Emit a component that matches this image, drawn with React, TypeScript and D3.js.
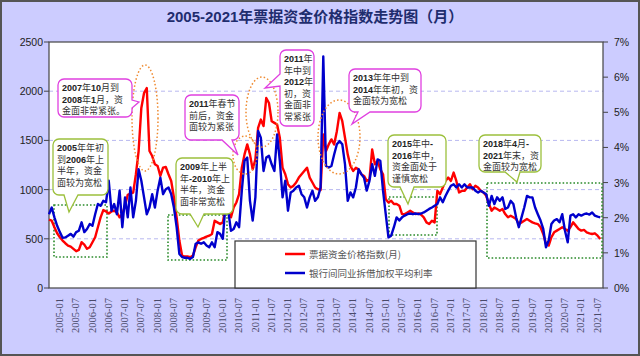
import React from 'react';
import * as d3 from 'd3';

const W = 640;
const H = 356;

const titleText = '2005-2021年票据资金价格指数走势图（月）';
const seriesNames = ['票据资金价格指数(月)', '银行间同业拆借加权平均利率'];

const tickLabels = [
  '2005-01', '2005-07', '2006-01', '2006-07', '2007-01', '2007-07', '2008-01', '2008-07',
  '2009-01', '2009-07', '2010-01', '2010-07', '2011-01', '2011-07', '2012-01', '2012-07',
  '2013-01', '2013-07', '2014-01', '2014-07', '2015-01', '2015-07', '2016-01', '2016-07',
  '2017-01', '2017-07', '2018-01', '2018-07', '2019-01', '2019-07', '2020-01', '2020-07',
  '2021-01', '2021-07',
];
const leftTicks = [0, 500, 1000, 1500, 2000, 2500];
const rightTicks = [0, 1, 2, 3, 4, 5, 6, 7];

// 票据资金价格指数 monthly, 2005-01 .. 2021-12
const billIndex = [
  694, 684, 617, 556, 516, 482, 455, 431, 421, 398,
  374, 388, 465, 441, 398, 414, 465, 516, 617, 718,
  792, 778, 758, 778, 785, 768, 718, 751, 836, 947,
  960, 970, 1156, 1392, 1830, 1982, 2032, 1392, 1341, 1257,
  1240, 1139, 1223, 1230, 1156, 1088, 920, 718, 482, 330,
  320, 320, 313, 330, 414, 482, 499, 509, 522, 532,
  549, 684, 667, 650, 667, 819, 785, 718, 819, 869,
  954, 1223, 1358, 1459, 1358, 1206, 1308, 1628, 1712, 1645,
  1931, 1880, 1695, 1678, 1661, 1527, 1223, 1156, 1055, 1021,
  1038, 1072, 1122, 1156, 1190, 1223, 1122, 1072, 1021, 1004,
  994, 1560, 1392, 1459, 1510, 1459, 1594, 1779, 1695, 1527,
  1358, 1240, 1190, 1223, 1206, 1156, 1139, 1088, 1105, 1409,
  1257, 1291, 1206, 1156, 903, 869, 886, 853, 853, 836,
  751, 751, 768, 785, 768, 751, 758, 745, 718, 667,
  650, 684, 667, 987, 954, 1021, 1088, 1122, 1088, 1173,
  1088, 971, 987, 987, 1021, 1055, 1004, 1038, 1021, 987,
  971, 937, 853, 785, 819, 802, 785, 802, 751, 718,
  735, 718, 701, 650, 667, 684, 701, 684, 667, 657,
  650, 617, 549, 448, 431, 516, 566, 583, 600, 617,
  600, 583, 617, 667, 634, 600, 583, 590, 566, 556,
  549, 556, 532, 499,
];

// 银行间同业拆借加权平均利率 (%) monthly, 2005-01 .. 2021-12
const interbankRate = [
  2.10, 2.29, 2.01, 1.77, 1.59, 1.43, 1.44, 1.49, 1.54, 1.46,
  1.59, 1.63, 1.87, 1.59, 1.68, 1.82, 1.77, 2.10, 2.39, 2.34,
  2.48, 2.44, 3.05, 2.20, 2.39, 2.10, 2.77, 1.73, 2.58, 2.01,
  2.86, 2.01, 2.48, 3.38, 3.05, 2.58, 2.10, 2.29, 2.67, 2.29,
  2.77, 3.14, 2.67, 2.81, 2.86, 2.67, 2.29, 1.73, 0.97, 0.88,
  0.86, 0.86, 0.83, 0.88, 1.26, 1.30, 1.26, 1.30, 1.21, 1.16,
  1.30, 1.16, 1.59, 1.54, 1.40, 2.39, 2.20, 1.63, 1.68, 1.87,
  1.73, 2.77, 3.62, 3.71, 2.48, 1.92, 2.58, 4.47, 4.28, 3.33,
  3.71, 3.76, 3.52, 3.33, 4.37, 3.62, 2.58, 3.05, 2.20, 2.72,
  2.77, 2.86, 2.91, 2.67, 2.58, 2.29, 2.58, 2.77, 2.48, 2.58,
  2.86, 6.59, 3.47, 3.43, 3.47, 3.80, 4.09, 4.18, 4.09, 3.52,
  2.48, 2.72, 2.58, 2.86, 3.38, 3.24, 3.14, 2.77, 3.05, 3.52,
  3.19, 3.66, 3.62, 2.77, 2.10, 1.44, 1.49, 1.73, 2.01, 1.92,
  2.01, 2.06, 2.10, 2.12, 2.10, 2.12, 2.10, 2.12, 2.15, 2.20,
  2.25, 2.29, 2.34, 2.39, 2.58, 2.44, 2.62, 2.77, 2.91, 2.95,
  2.86, 2.95, 2.86, 2.95, 2.86, 2.86, 2.86, 2.77, 2.72, 2.77,
  2.72, 2.67, 2.34, 2.62, 2.39, 2.58, 2.48, 2.58, 2.25, 2.29,
  2.48, 2.39, 2.01, 1.73, 2.01, 2.29, 2.62, 2.58, 2.58, 2.29,
  2.10, 1.92, 1.68, 1.16, 1.35, 1.82, 1.92, 1.96, 1.87, 2.10,
  1.63, 1.30, 2.06, 2.10, 2.01, 2.10, 2.06, 2.10, 2.12, 2.09,
  2.15, 2.06, 2.03, 2.01,
];

const calloutTexts = [
  ['2007年10月到', '2008年1月，资', '金面非常紧张。'],
  ['2005年年初', '到2006年上', '半年，资金', '面较为宽松'],
  ['2011年春节', '前后，资金', '面较为紧张'],
  ['2009年上半', '年-2010年上', '半年，资金', '面非常宽松'],
  ['2011年', '年中到', '2012年', '初，资', '金面非', '常紧张'],
  ['2013年年中到', '2014年年初，资', '金面较为宽松'],
  ['2015年中-', '2016年中，', '资金面处于', '谨慎宽松'],
  ['2018年4月-', '2021年末，资', '金面较为宽松'],
];

const PL = 49, PR = 603, PT = 42, PB = 288;

function calloutPath(
  x: number, y: number, w: number, h: number, r: number,
  side: string, b1: number, b2: number, tx: number, ty: number,
) {
  let p = `M${x + r},${y}H${x + w - r}A${r},${r} 0 0 1 ${x + w},${y + r}`;
  if (side === 'right') p += `V${b1}L${tx},${ty}L${x + w},${b2}`;
  p += `V${y + h - r}A${r},${r} 0 0 1 ${x + w - r},${y + h}`;
  if (side === 'bottom') p += `H${b2}L${tx},${ty}L${b1},${y + h}`;
  p += `H${x + r}A${r},${r} 0 0 1 ${x},${y + h - r}`;
  if (side === 'left') p += `V${b2}L${tx},${ty}L${x},${b1}`;
  p += `V${y + r}A${r},${r} 0 0 1 ${x + r},${y}Z`;
  return p;
}

function runs(line: string) {
  return line.match(/[\x00-\x7F]+|[^\x00-\x7F]+/g) || [];
}

function Callout(props: {
  lines: string[]; x: number; y: number; w: number; h: number; color: string;
  side: string; b1: number; b2: number; tx: number; ty: number; lh?: number;
}) {
  const { lines, x, y, w, h, color, side, b1, b2, tx, ty } = props;
  const lh = props.lh ?? 11.5;
  return (
    <g>
      <path d={calloutPath(x, y, w, h, 6, side, b1, b2, tx, ty)} fill="#ffffff" stroke={color} strokeWidth={1.3} />
      {lines.map((ln, k) => (
        <text key={k} x={x + 4} y={y + 12 + k * lh} fontSize={9}>
          {runs(ln).map((r, j) =>
            /^[\x00-\x7F]+$/.test(r) ? (
              <tspan key={j} fontFamily="Liberation Sans, Arial, sans-serif" fontWeight="bold" fill="#222">{r}</tspan>
            ) : (
              <tspan key={j} fontFamily="Noto Sans CJK SC, sans-serif" fill="#333">{r}</tspan>
            ),
          )}
        </text>
      ))}
    </g>
  );
}

export default function App() {
  const idx = d3.range(billIndex.length);
  const x = d3.scaleLinear().domain([0, 204]).range([PL, PR]);
  const yL = d3.scaleLinear().domain([0, 2500]).range([PB, PT]);
  const yR = d3.scaleLinear().domain([0, 7]).range([PB, PT]);

  const redLine = d3.line<number>().x((i) => x(i)).y((i) => yL(billIndex[i]));
  const blueLine = d3.line<number>().x((i) => x(i)).y((i) => yR(interbankRate[i]));

  const dotted = { fill: 'none', stroke: '#2a8a2a', strokeWidth: 1.6, strokeDasharray: '1.6,2' };
  const ell = { fill: 'none', stroke: '#ef8a30', strokeWidth: 1.5, strokeDasharray: '1.5,2.2' };
  const mag = '#e040e0';
  const grn = '#9cc03c';

  return (
    <svg width={W} height={H} style={{ position: 'absolute', left: 0, top: 0 }}>
      <rect x={0} y={0} width={W} height={H} fill="#ccccff" />
      <rect x={1} y={1} width={W - 2} height={H - 2} fill="none" stroke="#555" strokeWidth={2} />
      <text x={315} y={22} textAnchor="middle" fontSize={15} fontWeight="bold"
        fontFamily="Liberation Sans, Noto Sans CJK SC, sans-serif" fill="#1f2d6e">{titleText}</text>

      <rect x={PL} y={PT} width={PR - PL} height={PB - PT} fill="#ffffff" />
      {leftTicks.slice(1, -1).map((t) => (
        <line key={t} x1={PL} x2={PR} y1={yL(t)} y2={yL(t)} stroke="#b8b8f0" strokeWidth={1} strokeDasharray="4,3" />
      ))}
      <rect x={PL} y={PT} width={PR - PL} height={PB - PT} fill="none" stroke="#444" strokeWidth={1.2} />

      {leftTicks.map((t) => (
        <g key={t}>
          <line x1={PL - 5} x2={PL} y1={yL(t)} y2={yL(t)} stroke="#444" />
          <text x={43} y={yL(t) + 4} textAnchor="end" fontSize={10.5}
            fontFamily="Liberation Sans, Arial, sans-serif" fill="#222">{t}</text>
        </g>
      ))}
      {rightTicks.map((t) => (
        <g key={t}>
          <line x1={PR} x2={PR + 5} y1={yR(t)} y2={yR(t)} stroke="#444" />
          <text x={614} y={yR(t) + 4} fontSize={10.5}
            fontFamily="Liberation Sans, Arial, sans-serif" fill="#222">{t}%</text>
        </g>
      ))}
      {tickLabels.map((lb, k) => (
        <text key={lb} transform={`translate(${x(k * 6) + 14},298) rotate(-90)`} textAnchor="end"
          fontSize={10.5} fontFamily="Liberation Serif, serif" fill="#4a4a6a">{lb}</text>
      ))}

      {/* dotted highlight boxes */}
      <rect x={54} y={205} width={53} height={52} {...dotted} />
      <rect x={168} y={215} width={59} height={45} {...dotted} />
      <rect x={389} y={197} width={48} height={38} {...dotted} />
      <rect x={487} y={183} width={115} height={75} {...dotted} />

      {/* legend */}
      <rect x={235} y={241} width={241} height={47} fill="#ffffff" stroke="#333" strokeWidth={1.2} />
      <line x1={285} x2={305} y1={254} y2={254} stroke="#ff0000" strokeWidth={2.5} />
      <text x={309} y={257.5} fontSize={9.5} fontFamily="Noto Sans CJK SC, sans-serif" fill="#555">{seriesNames[0]}</text>
      <line x1={285} x2={305} y1={273} y2={273} stroke="#0000cc" strokeWidth={2.5} />
      <text x={309} y={276.5} fontSize={9.5} fontFamily="Noto Sans CJK SC, sans-serif" fill="#555">{seriesNames[1]}</text>

      <path d={redLine(idx) || ''} fill="none" stroke="#ff0000" strokeWidth={2.4} strokeLinejoin="round" />
      <path d={blueLine(idx) || ''} fill="none" stroke="#0000cc" strokeWidth={2.4} strokeLinejoin="round" />

      {/* orange dotted ellipses */}
      <ellipse cx={145} cy={118} rx={13} ry={53} {...ell} />
      <ellipse cx={245} cy={155} rx={12} ry={19} {...ell} />
      <ellipse cx={262} cy={112} rx={16} ry={35} {...ell} />
      <ellipse cx={339} cy={137} rx={21} ry={37} {...ell} />

      {/* callouts */}
      <Callout lines={calloutTexts[0]} x={58} y={79} w={74} h={38} color={mag} side="right" b1={100} b2={108} tx={139} ty={102} />
      <Callout lines={calloutTexts[1]} x={53} y={139} w={55} h={56} color={grn} side="bottom" b1={64} b2={78} tx={69} ty={212} />
      <Callout lines={calloutTexts[2]} x={185} y={95} w={54} h={45} color={mag} side="bottom" b1={222} b2={232} tx={238} ty={155} />
      <Callout lines={calloutTexts[3]} x={176} y={158} w={57} h={56} color={grn} side="bottom" b1={190} b2={204} tx={198} ty={227} />
      <Callout lines={calloutTexts[4]} x={280} y={50} w={34} h={76} color={mag} side="left" b1={74} b2={86} tx={265} ty={88} />
      <Callout lines={calloutTexts[5]} x={349} y={69} w={72} h={43} color={mag} side="bottom" b1={358} b2={370} tx={352} ty={124} />
      <Callout lines={calloutTexts[6]} x={388} y={135} w={58} h={52} color={grn} side="bottom" b1={400} b2={414} tx={408} ty={204} />
      <Callout lines={calloutTexts[7]} x={479} y={135} w={62} h={37} color={grn} side="bottom" b1={505} b2={520} tx={517} ty={182} />
    </svg>
  );
}
